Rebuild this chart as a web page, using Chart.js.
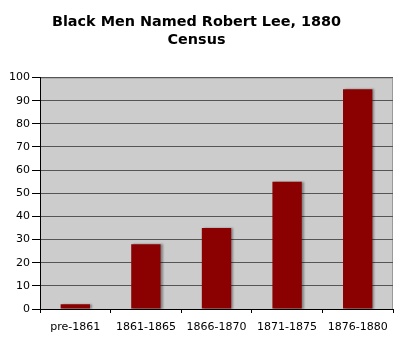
<!DOCTYPE html>
<html>
<head>
<meta charset="utf-8">
<script src="https://cdn.jsdelivr.net/npm/chart.js@4"></script>
<style>
  html, body { margin: 0; padding: 0; background: #fff; }
  #wrap { width: 400px; height: 340px; }
</style>
</head>
<body>
<div id="wrap"><canvas id="myChart" width="400" height="340"></canvas></div>
<script>
const periodos = ['pre-1861', '1861-1865', '1866-1870', '1871-1875', '1876-1880'];
const hombres = [2, 28, 35, 55, 95];
const tituloLineas = ['Black Men Named Robert Lee, 1880', 'Census'];
const yMin = 0;
const yMax = 100;
const yPaso = 10;

// fondo gris del area del grafico + sombra de las barras
const fondoGris = {
  id: 'fondoGris',
  beforeDraw(chart) {
    const a = chart.chartArea;
    const ctx = chart.ctx;
    ctx.save();
    ctx.fillStyle = '#cccccc';
    ctx.fillRect(a.left, a.top, a.right - a.left, a.bottom - a.top);
    ctx.strokeStyle = '#999999';
    ctx.lineWidth = 1;
    ctx.strokeRect(a.left + 0.5, a.top + 0.5, a.right - a.left - 1, a.bottom - a.top);
    ctx.restore();
  },
  beforeDatasetDraw(chart) {
    const ctx = chart.ctx;
    ctx.save();
    ctx.shadowColor = 'rgba(0,0,0,0.35)';
    ctx.shadowOffsetX = 2;
    ctx.shadowOffsetY = 0;
    ctx.shadowBlur = 2;
  },
  afterDatasetDraw(chart) {
    chart.ctx.restore();
  }
};

const ctx = document.getElementById('myChart').getContext('2d');
const myChart = new Chart(ctx, {
  type: 'bar',
  data: {
    labels: periodos,
    datasets: [{
      data: hombres,
      backgroundColor: '#8b0000',
      borderWidth: 0,
      categoryPercentage: 0.8,
      barPercentage: 0.52
    }]
  },
  plugins: [fondoGris],
  options: {
    responsive: false,
    animation: false,
    layout: { padding: { left: 0, right: 7, top: 0, bottom: 0 } },
    plugins: {
      legend: { display: false },
      tooltip: { enabled: false },
      title: {
        display: true,
        text: tituloLineas,
        color: '#000',
        font: { family: 'DejaVu Sans', size: 14.4, weight: 'bold', lineHeight: 1.2 },
        padding: { top: 14, bottom: 29 }
      }
    },
    scales: {
      x: {
        grid: { drawOnChartArea: false, drawTicks: true, tickLength: 4, tickColor: '#000', offset: true },
        border: { color: '#000' },
        ticks: { color: '#000', font: { family: 'DejaVu Sans', size: 11 }, padding: 8, maxRotation: 0 },
        afterFit: s => { s.height = 31; }
      },
      y: {
        min: yMin,
        max: yMax,
        ticks: { stepSize: yPaso, color: '#000', font: { family: 'DejaVu Sans', size: 11 }, padding: 2 },
        grid: { color: '#555555', tickColor: '#000', tickLength: 8 },
        border: { color: '#000' },
        afterFit: s => { s.width = 40; }
      }
    }
  }
});
</script>
</body>
</html>
